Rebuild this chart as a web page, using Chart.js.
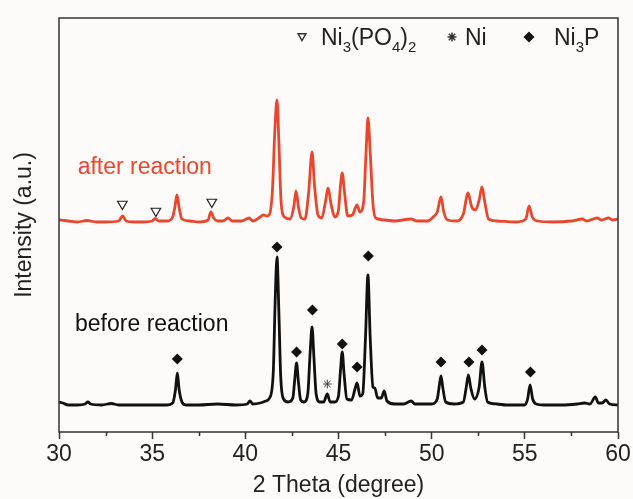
<!DOCTYPE html>
<html>
<head>
<meta charset="utf-8">
<script src="https://cdn.jsdelivr.net/npm/chart.js@4"></script>
<style>
  body { margin: 0; background: #fcfbfa; }
</style>
</head>
<body>
<canvas id="XRD_CHART" width="633" height="499"></canvas>
<script>
// XRD patterns, intensity in arbitrary units
const beforeTheta = [30.0,30.2,30.5,31.0,31.4,31.55,31.7,32.3,32.8,33.2,34.0,35.0,35.8,36.1,36.25,36.35,36.45,36.6,36.8,37.5,38.5,39.5,40.1,40.25,40.4,40.8,41.1,41.3,41.5,41.6,41.7,41.8,41.9,42.05,42.3,42.55,42.65,42.75,42.85,42.97,43.15,43.35,43.48,43.58,43.68,43.8,44.0,44.2,44.4,44.55,44.8,45.0,45.1,45.2,45.3,45.45,45.7,45.9,46.0,46.15,46.3,46.45,46.58,46.7,46.85,46.95,47.1,47.3,47.45,47.6,48.0,48.5,48.9,49.1,50.0,50.3,50.4,50.5,50.6,50.75,51.2,51.7,51.85,51.97,52.1,52.3,52.55,52.7,52.85,53.0,53.5,54.0,55.0,55.15,55.28,55.42,55.6,56.0,57.0,57.8,58.2,58.5,58.78,58.95,59.15,59.35,59.55,60.0];
const beforeIntensity = [30,29,27,27,28,30,28,27,28.5,27,27,27,27,29,42,59,42,30,27,27,28,27,28,31,28,29,31,34,60,130,175,120,55,33,30,34,52,69,50,32,30,38,80,105,75,38,30,30,38,30,30,36,60,80,58,33,32,44,49,36,38,95,157,95,45,44,34,34,41,31,28,28,31,28,28,33,45,56,44,30,28,30,44,57,44,33,45,70,45,30,28,27,27,33,47,33,28,27,27,28,29,28,35,29,29,32,28,27];

const afterTheta = [30.0,30.5,31.0,31.5,32.0,32.5,33.2,33.42,33.6,34.0,34.5,35.0,35.17,35.35,35.8,36.1,36.22,36.33,36.45,36.6,37.0,37.5,38.0,38.15,38.3,38.5,38.8,39.07,39.3,39.8,40.2,40.4,40.8,40.95,41.2,41.45,41.58,41.7,41.8,41.92,42.1,42.4,42.6,42.72,42.85,43.0,43.2,43.4,43.58,43.72,43.9,44.1,44.3,44.44,44.6,44.8,45.0,45.1,45.2,45.32,45.5,45.75,45.99,46.15,46.35,46.48,46.58,46.7,46.85,47.0,47.5,48.0,48.9,49.2,49.8,50.08,50.3,50.5,50.65,50.85,51.3,51.7,51.95,52.15,52.35,52.55,52.7,52.85,53.05,53.5,54.5,55.05,55.23,55.4,55.7,56.5,57.5,58.1,58.3,58.9,59.1,59.5,59.7,60.0];
const afterIntensity = [212,211,210,211.5,210,210,211,216,211,210,210,211,213.5,211,211,215,225,237,224,213,211,210,212,220,214,211,211,214,211,211,214,211,215,217,216,240,300,332,290,230,215,213,225,241,225,214,213,240,280,245,217,214,230,244,228,215,222,245,259,240,216,217,227,220,230,280,314,280,228,214,212,211,213,211,211,215,220,235,220,212,211,218,239,225,222,232,245,230,213,211,210,213,226,215,211,210,211,213,211,214,212,214,212,213];

// phase markers
const ni3pTheta = [36.35,41.7,42.75,43.6,45.2,46.0,46.6,50.5,52.0,52.7,55.3];
const ni3pY = [73,185,80,122,88,65,176,70,70,82,60];
const niTheta = [44.4];
const niY = [48];
const ni3po4Theta = [33.4,35.2,38.2];
const ni3po4Y = [228,221,230];

const xTicks = [30,35,40,45,50,55,60];
const minorTicks = [32.5,37.5,42.5,47.5,52.5,57.5];

function toPoints(xs, ys){
    return xs.map((x, i) => ({x: x, y: ys[i]}));
}

const bgColor = '#fcfbfa';
const redColor = '#e8472d';
const font = "'Liberation Sans', Arial, sans-serif";

const framePlugin = {
    id: 'frame',
    beforeDraw(chart){
        const c = chart.ctx;
        c.save();
        c.fillStyle = bgColor;
        c.fillRect(0, 0, chart.width, chart.height);
        c.restore();
    },
    afterDraw(chart){
        const c = chart.ctx;
        const a = chart.chartArea;
        const xs = chart.scales.x;
        c.save();
        c.strokeStyle = '#333';
        c.lineWidth = 1.5;
        c.strokeRect(a.left, a.top, a.right - a.left, a.bottom - a.top);
        // minor ticks
        c.beginPath();
        minorTicks.forEach(t => {
            const px = Math.round(xs.getPixelForValue(t)) + 0.5;
            c.moveTo(px, a.bottom);
            c.lineTo(px, a.bottom + 4);
        });
        c.stroke();

        // sample labels
        const ys = chart.scales.y;
        c.font = '23px ' + font;
        c.textBaseline = 'middle';
        c.fillStyle = redColor;
        c.fillText('after reaction', xs.getPixelForValue(31.0), ys.getPixelForValue(264));
        c.fillStyle = '#111';
        c.fillText('before reaction', xs.getPixelForValue(30.86), ys.getPixelForValue(107));

        // phase legend
        const ly = 37;
        c.fillStyle = bgColor;
        c.strokeStyle = '#333';
        Chart.helpers.drawPoint(c, {pointStyle: 'triangle', rotation: 180, radius: 4.5, borderWidth: 1}, 302, ly - 1);
        c.fillStyle = '#222';
        let x = 321;
        const parts = [['Ni',0],['3',1],['(PO',0],['4',1],[')',0],['2',1]];
        parts.forEach(p => {
            c.font = (p[1] ? '15px ' : '23px ') + font;
            c.textBaseline = 'alphabetic';
            c.fillText(p[0], x, p[1] ? 52 : 45);
            x += c.measureText(p[0]).width;
        });
        c.strokeStyle = '#333';
        Chart.helpers.drawPoint(c, {pointStyle: 'star', radius: 4.5, borderWidth: 1.2}, 452, ly);
        c.font = '23px ' + font;
        c.fillText('Ni', 465, 45);
        c.fillStyle = '#111';
        Chart.helpers.drawPoint(c, {pointStyle: 'rectRot', radius: 5.5, borderWidth: 0}, 529, ly);
        c.fillStyle = '#222';
        c.fillText('Ni', 554, 45);
        let w = c.measureText('Ni').width;
        c.font = '15px ' + font;
        c.fillText('3', 554 + w, 52);
        w += c.measureText('3').width;
        c.font = '23px ' + font;
        c.fillText('P', 554 + w, 45);
        c.restore();
    }
};

let ctx = document.getElementById('XRD_CHART');
let myChart = new Chart(ctx, {
    type: 'scatter',
    data: {
        datasets: [{
            data: toPoints(afterTheta, afterIntensity),
            showLine: true,
            borderColor: redColor,
            borderWidth: 2.8,
            pointRadius: 0,
            cubicInterpolationMode: 'monotone'
        },{
            data: toPoints(beforeTheta, beforeIntensity),
            showLine: true,
            borderColor: '#111',
            borderWidth: 2.8,
            pointRadius: 0,
            cubicInterpolationMode: 'monotone'
        },{
            data: toPoints(ni3pTheta, ni3pY),
            pointStyle: 'rectRot',
            pointRadius: 5.5,
            backgroundColor: '#111',
            borderWidth: 0
        },{
            data: toPoints(niTheta, niY),
            pointStyle: 'star',
            pointRadius: 4.5,
            borderColor: '#444',
            borderWidth: 1
        },{
            data: toPoints(ni3po4Theta, ni3po4Y),
            pointStyle: 'triangle',
            rotation: 180,
            pointRadius: 5.5,
            backgroundColor: bgColor,
            borderColor: '#222',
            borderWidth: 1.2
        }]
    },
    options: {
        responsive: false,
        animation: false,
        devicePixelRatio: 1,
        layout: {
            padding: {top: 18, right: 15, left: 0, bottom: 0}
        },
        scales: {
            x: {
                type: 'linear',
                min: 30,
                max: 60,
                afterBuildTicks(scale){
                    scale.ticks = xTicks.map(v => ({value: v}));
                },
                afterFit(scale){
                    scale.height = 67;
                },
                grid: {
                    drawOnChartArea: false,
                    drawTicks: true,
                    tickLength: 7,
                    tickColor: '#333',
                    tickWidth: 1.5
                },
                border: {display: false},
                ticks: {
                    autoSkip: false,
                    maxRotation: 0,
                    padding: 2,
                    color: '#222',
                    font: {family: font, size: 23}
                },
                title: {
                    display: true,
                    text: '2 Theta (degree)',
                    color: '#222',
                    padding: {top: 0, bottom: 0},
                    font: {family: font, size: 23}
                }
            },
            y: {
                min: 0,
                max: 414,
                afterFit(scale){
                    scale.width = 59;
                },
                grid: {display: false},
                border: {display: false},
                ticks: {display: false},
                title: {
                    display: true,
                    text: 'Intensity (a.u.)',
                    color: '#222',
                    padding: {top: 11, bottom: 0},
                    font: {family: font, size: 23}
                }
            }
        },
        plugins: {
            legend: {display: false},
            tooltip: {enabled: false}
        }
    },
    plugins: [framePlugin]
});
</script>
</body>
</html>
